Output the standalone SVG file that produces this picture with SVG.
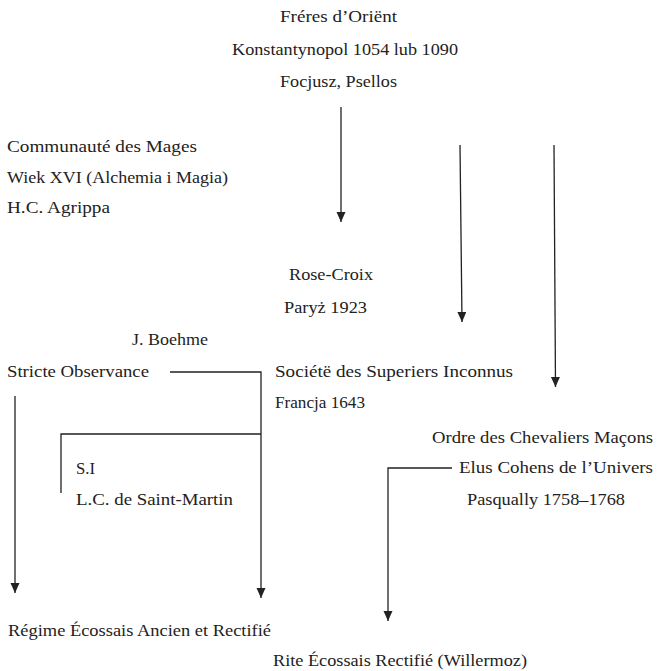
<svg xmlns="http://www.w3.org/2000/svg" width="659" height="671" viewBox="0 0 659 671">
<defs>
<style>
text{font-family:"Liberation Serif","Times New Roman",serif;font-size:17px;fill:#222}
.c{fill:none;stroke:#222;stroke-width:1.3}
</style>
<marker id="ah" markerUnits="userSpaceOnUse" markerWidth="10" markerHeight="10" refX="10" refY="4.5" orient="auto">
<path d="M0,0 L10,4.5 L0,9 z" fill="#222"/>
</marker>
</defs>
<rect width="659" height="671" fill="#fff"/>
<g id="connectors">
<line class="c" x1="341" y1="107" x2="341" y2="222" marker-end="url(#ah)"/>
<line class="c" x1="460" y1="145" x2="462" y2="322" marker-end="url(#ah)"/>
<line class="c" x1="554" y1="145" x2="555.5" y2="387" marker-end="url(#ah)"/>
<polyline class="c" points="170,372 261,372 261,598" marker-end="url(#ah)"/>
<polyline class="c" points="261,434 61,434 61,493"/>
<line class="c" x1="15" y1="396" x2="15" y2="593" marker-end="url(#ah)"/>
<polyline class="c" points="452,468 388,468 388,621" marker-end="url(#ah)"/>
</g>
<g id="n-freres">
<text x="280" y="22" textLength="117" lengthAdjust="spacingAndGlyphs">Fréres d’Oriënt</text>
<text x="232" y="55" textLength="226" lengthAdjust="spacingAndGlyphs">Konstantynopol 1054 lub 1090</text>
<text x="280" y="87" textLength="117" lengthAdjust="spacingAndGlyphs">Focjusz, Psellos</text>
</g>
<g id="n-mages">
<text x="7" y="152" textLength="190" lengthAdjust="spacingAndGlyphs">Communauté des Mages</text>
<text x="7" y="183" textLength="221" lengthAdjust="spacingAndGlyphs">Wiek XVI (Alchemia i Magia)</text>
<text x="7" y="213" textLength="103" lengthAdjust="spacingAndGlyphs">H.C. Agrippa</text>
</g>
<g id="n-rosecroix">
<text x="289" y="280" textLength="84" lengthAdjust="spacingAndGlyphs">Rose-Croix</text>
<text x="284" y="313" textLength="83" lengthAdjust="spacingAndGlyphs">Paryż 1923</text>
</g>
<g id="n-boehme">
<text x="132" y="345" textLength="76" lengthAdjust="spacingAndGlyphs">J. Boehme</text>
</g>
<g id="n-stricte">
<text x="7" y="377" textLength="142" lengthAdjust="spacingAndGlyphs">Stricte Observance</text>
</g>
<g id="n-societe">
<text x="275" y="377" textLength="238" lengthAdjust="spacingAndGlyphs">Sociétë des Superiers Inconnus</text>
<text x="275" y="408" textLength="90" lengthAdjust="spacingAndGlyphs">Francja 1643</text>
</g>
<g id="n-si">
<text x="76" y="474" textLength="19" lengthAdjust="spacingAndGlyphs">S.I</text>
<text x="76" y="505" textLength="157" lengthAdjust="spacingAndGlyphs">L.C. de Saint-Martin</text>
</g>
<g id="n-ordre">
<text x="432" y="443" textLength="221" lengthAdjust="spacingAndGlyphs">Ordre des Chevaliers Maçons</text>
</g>
<g id="n-elus">
<text x="459" y="473" textLength="194" lengthAdjust="spacingAndGlyphs">Elus Cohens de l’Univers</text>
<text x="467" y="505" textLength="158" lengthAdjust="spacingAndGlyphs">Pasqually 1758–1768</text>
</g>
<g id="n-regime">
<text x="8" y="636" textLength="263" lengthAdjust="spacingAndGlyphs">Régime Écossais Ancien et Rectifié</text>
</g>
<g id="n-rite">
<text x="273" y="666" textLength="254" lengthAdjust="spacingAndGlyphs">Rite Écossais Rectifié (Willermoz)</text>
</g>
</svg>
